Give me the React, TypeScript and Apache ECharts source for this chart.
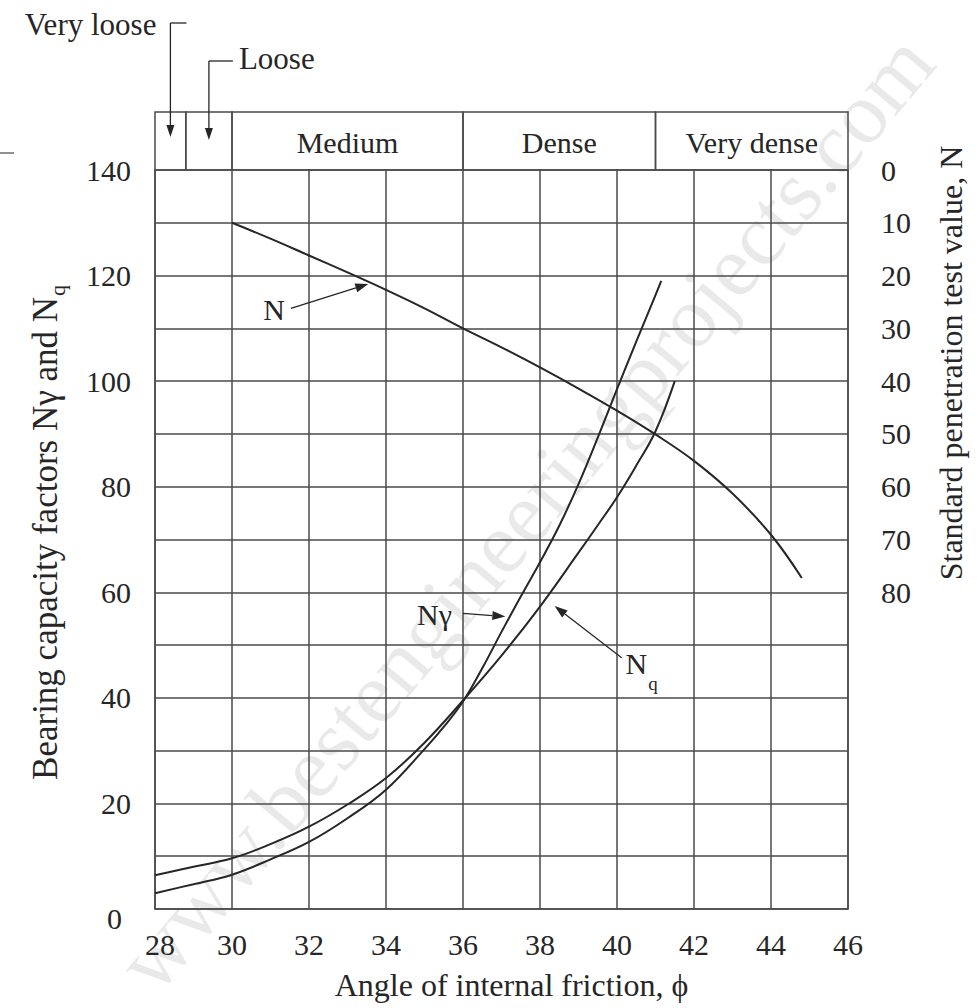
import React, { useEffect, useRef } from 'react';
import * as echarts from 'echarts';

// ---- data ----
const phiN = [30, 31, 32, 33, 34, 35, 36, 37, 38, 39, 40, 41, 42, 43, 44, 44.8];
const sptN = [10, 13, 16.2, 19.4, 22.7, 26.2, 30, 33.6, 37.4, 41.4, 45.6, 50.1, 55.1, 61.3, 69.1, 77.3];

const phiNq = [28, 29, 30, 31, 32, 33, 34, 35, 36, 37, 38, 39, 39.5, 40, 40.5, 41, 41.5];
const nqValues = [6.4, 8, 9.6, 12.3, 15.6, 19.8, 24.8, 31.5, 39.5, 48, 57.3, 67.5, 72.7, 78, 84, 90.5, 100];

const phiNg = [28, 29, 30, 31, 32, 33, 34, 35, 35.5, 36, 36.5, 37, 37.5, 38, 38.5, 39, 39.5, 40, 40.5, 41, 41.15];
const ngValues = [3.0, 4.7, 6.5, 9.4, 12.7, 17.2, 22.6, 30.3, 34.5, 39.3, 45.6, 52.5, 59.2, 65.7, 72.6, 80.5, 89.3, 98.5, 107.5, 116.3, 119];

const densityBounds = [28, 28.8, 30, 36, 41, 46];
const densityLabels = ['', '', 'Medium', 'Dense', 'Very dense'];
const outsideLabels = ['Very loose', 'Loose'];

const xTitle = 'Angle of internal friction, \u03D5';
const leftTitle = 'Bearing capacity factors N\u03B3 and N';
const rightTitle = 'Standard penetration test value, N';
const watermark = 'www.bestengineeringprojects.com';

const FONT = "'Liberation Serif', 'Times New Roman', serif";
const INK = '#262626';
const GRID = '#4a4a4a';

function txt(x: number, y: number, text: string, size: number, align = 'center', vAlign = 'middle', extra: any = {}) {
  return {
    type: 'text', x, y, silent: true, ...extra,
    style: {
      text, fontSize: size, fontFamily: FONT, fill: INK,
      textAlign: align, textVerticalAlign: vAlign, align, verticalAlign: vAlign,
      ...(extra.style || {}),
    },
  };
}

function arrow(x1: number, y1: number, x2: number, y2: number, hl = 13, hw = 4.5, lw = 1.3) {
  const dx = x2 - x1, dy = y2 - y1, L = Math.hypot(dx, dy);
  const ux = dx / L, uy = dy / L;
  const bx = x2 - ux * hl, by = y2 - uy * hl;
  return [
    { type: 'line', silent: true, shape: { x1, y1, x2: bx, y2: by }, style: { stroke: INK, lineWidth: lw } },
    {
      type: 'polygon', silent: true,
      shape: { points: [[x2, y2], [bx - uy * hw, by + ux * hw], [bx + uy * hw, by - ux * hw]] },
      style: { fill: INK },
    },
  ];
}

function buildGraphics(chart: any) {
  const p = (x: number, y: number) => chart.convertToPixel({ xAxisIndex: 0, yAxisIndex: 0 }, [x, y]);
  const [gx0, gy0] = p(28, 140);
  const bandTop = gy0 - 58;
  const g: any[] = [];

  // watermark
  g.push(txt(525, 512, watermark, 88, 'center', 'middle', {
    rotation: 0.873, z: -5,
    style: { fill: 'rgba(0,0,0,0.085)' },
  }));

  // scan artifact line
  g.push({ type: 'line', silent: true, shape: { x1: 0, y1: 153, x2: 14, y2: 153 }, style: { stroke: '#555', lineWidth: 1.3 } });

  // density band
  for (let i = 0; i < densityBounds.length - 1; i++) {
    const xa = p(densityBounds[i], 140)[0];
    const xb = p(densityBounds[i + 1], 140)[0];
    g.push({
      type: 'rect', silent: true,
      shape: { x: xa, y: bandTop, width: xb - xa, height: gy0 - bandTop },
      style: { fill: 'none', stroke: GRID, lineWidth: 1.5 },
    });
    if (densityLabels[i]) g.push(txt((xa + xb) / 2, (bandTop + gy0) / 2 + 1, densityLabels[i], 30));
  }
  const c0 = (p(densityBounds[0], 140)[0] + p(densityBounds[1], 140)[0]) / 2;
  const c1 = (p(densityBounds[1], 140)[0] + p(densityBounds[2], 140)[0]) / 2;
  // Very loose
  g.push(txt(c0 - 14, 24, outsideLabels[0], 31, 'right'));
  g.push({ type: 'line', silent: true, shape: { x1: c0, y1: 23, x2: c0 + 16, y2: 23 }, style: { stroke: INK, lineWidth: 1.3 } });
  g.push(...arrow(c0, 23, c0, bandTop + 25, 12, 4));
  // Loose
  g.push(txt(c1 + 30, 58, outsideLabels[1], 31, 'left'));
  g.push({ type: 'line', silent: true, shape: { x1: c1, y1: 61, x2: c1 + 24, y2: 61 }, style: { stroke: INK, lineWidth: 1.3 } });
  g.push(...arrow(c1, 61, c1, bandTop + 28, 12, 4));

  // N annotation
  const nL = p(31.09, 113.6);
  g.push(txt(nL[0], nL[1], 'N', 30));
  const nA = p(31.53, 113.8), nT = p(33.54, 118.4);
  g.push(...arrow(nA[0], nA[1], nT[0], nT[1]));

  // N gamma annotation
  const gL = p(35.26, 55.8);
  g.push(txt(gL[0], gL[1], 'N\u03B3', 30));
  const gA = p(36.0, 56), gT = p(37.1, 55.4);
  g.push(...arrow(gA[0], gA[1], gT[0], gT[1]));

  // Nq annotation
  const qL = p(40.5, 46.5);
  g.push(txt(qL[0], qL[1], 'N', 30));
  g.push(txt(qL[0] + 12, qL[1] + 20, 'q', 19, 'left'));
  const qA = p(40.12, 47.6), qT = p(38.38, 57.4);
  g.push(...arrow(qA[0], qA[1], qT[0], qT[1]));

  // axis titles
  const [gx1, gy1] = p(46, 0);
  g.push(txt((gx0 + gx1) / 2 + 10, gy1 + 76, xTitle, 32));
  g.push({
    type: 'group', x: 45, y: 540, rotation: Math.PI / 2, silent: true,
    children: [
      txt(243, 0, leftTitle, 35, 'right'),
      txt(244, 12, 'q', 22, 'left'),
    ],
  });
  g.push({
    type: 'group', x: 951, y: 363, rotation: Math.PI / 2, silent: true,
    children: [txt(0, 0, rightTitle, 32, 'center')],
  });
  return g;
}

const lineStyle = { color: INK, width: 2 };

const option: any = {
  animation: false,
  backgroundColor: '#ffffff',
  textStyle: { fontFamily: FONT, color: INK },
  grid: { left: 155, right: 130, top: 170, bottom: 99, outerBoundsMode: 'none', containLabel: false },
  xAxis: {
    type: 'value', min: 28, max: 46, interval: 2,
    axisLine: { show: true, lineStyle: { color: GRID, width: 1.5 } },
    axisTick: { show: false },
    splitLine: { show: true, lineStyle: { color: GRID, width: 1.5 } },
    axisLabel: {
      fontSize: 30, fontFamily: FONT, color: INK, margin: 20,
      formatter: (v: number) => (v === 28 ? '{f|28}' : String(v)),
      rich: { f: { fontSize: 30, fontFamily: FONT, color: INK, padding: [0, 0, 0, 10] } },
    },
  },
  yAxis: [
    {
      type: 'value', min: 0, max: 140, interval: 10, position: 'left',
      axisLine: { show: true, lineStyle: { color: GRID, width: 1.5 } },
      axisTick: { show: false },
      splitLine: { show: true, lineStyle: { color: GRID, width: 1.5 } },
      axisLabel: {
        fontSize: 30, fontFamily: FONT, color: INK, margin: 24,
        formatter: (v: number) => (v === 0 ? '{z|0}' : v % 20 === 0 ? String(v) : ''),
        rich: { z: { fontSize: 30, fontFamily: FONT, color: INK, padding: [18, 9, 0, 0] } },
      },
    },
    {
      type: 'value', min: 0, max: 140, interval: 10, position: 'right', inverse: true,
      axisLine: { show: true, lineStyle: { color: GRID, width: 1.5 } },
      axisTick: { show: false },
      splitLine: { show: false },
      axisLabel: {
        fontSize: 30, fontFamily: FONT, color: INK, margin: 33,
        formatter: (v: number) => (v <= 80 ? String(v) : ''),
      },
    },
  ],
  series: [
    {
      name: 'N', type: 'line', yAxisIndex: 1, symbol: 'none', smooth: 0.4,
      lineStyle, data: phiN.map((x, i) => [x, sptN[i]]), z: 5,
    },
    {
      name: 'Nq', type: 'line', yAxisIndex: 0, symbol: 'none', smooth: 0.4,
      lineStyle, data: phiNq.map((x, i) => [x, nqValues[i]]), z: 5,
    },
    {
      name: 'Ngamma', type: 'line', yAxisIndex: 0, symbol: 'none', smooth: 0.4,
      lineStyle, data: phiNg.map((x, i) => [x, ngValues[i]]), z: 5,
    },
  ],
};

export default function App() {
  const ref = useRef<HTMLDivElement>(null);
  useEffect(() => {
    const chart = echarts.init(ref.current as HTMLDivElement, null, { renderer: 'svg' });
    chart.setOption(option);
    chart.setOption({ graphic: { elements: buildGraphics(chart) } });
    return () => chart.dispose();
  }, []);
  return (
    <div
      ref={ref}
      style={{ position: 'fixed', left: 0, top: 0, width: 978, height: 1008, background: '#fff' }}
    />
  );
}
